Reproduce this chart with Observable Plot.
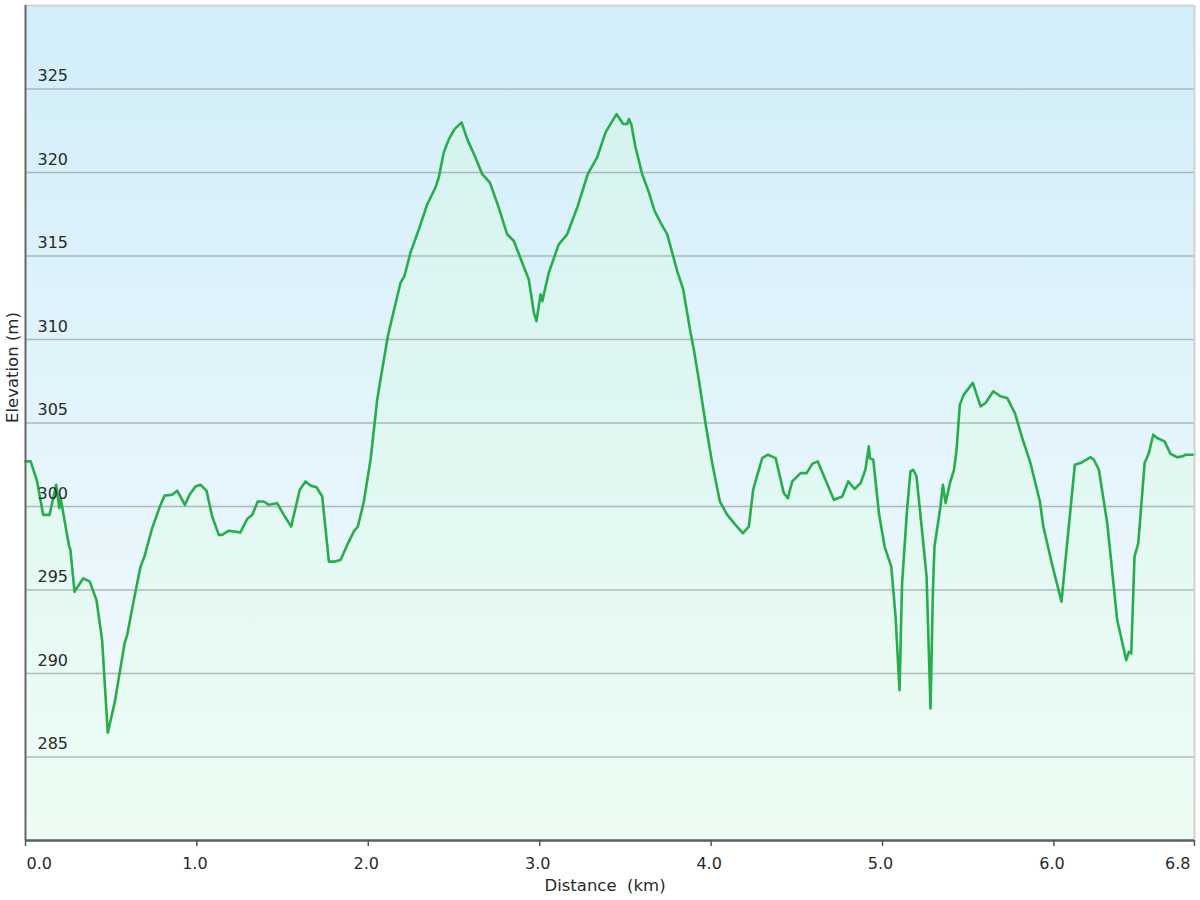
<!DOCTYPE html>
<html>
<head>
<meta charset="utf-8">
<script src="https://cdn.jsdelivr.net/npm/d3@7"></script>
<script src="https://cdn.jsdelivr.net/npm/@observablehq/plot@0.6"></script>
<style>
  html, body { margin: 0; padding: 0; background: #fff; }
  #chart { width: 1200px; height: 900px; }
</style>
</head>
<body>
<div id="chart"></div>
<script>
// Distance along the track (km)
const distKm = [
  0, 0.03, 0.068, 0.103, 0.14, 0.179, 0.197, 0.205, 0.253, 0.262,
  0.286, 0.337, 0.375, 0.414, 0.447, 0.48, 0.521, 0.578, 0.593, 0.632,
  0.671, 0.694, 0.739, 0.784, 0.811, 0.856, 0.885, 0.93, 0.957, 0.992,
  1.02, 1.056, 1.089, 1.128, 1.147, 1.186, 1.254, 1.293, 1.323, 1.355,
  1.39, 1.42, 1.468, 1.507, 1.55, 1.6, 1.634, 1.663, 1.698, 1.731,
  1.77, 1.803, 1.838, 1.886, 1.915, 1.939, 1.974, 2.013, 2.052, 2.071,
  2.114, 2.139, 2.188, 2.211, 2.246, 2.295, 2.344, 2.392, 2.411, 2.44,
  2.47, 2.503, 2.544, 2.577, 2.625, 2.665, 2.709, 2.761, 2.81, 2.849,
  2.898, 2.936, 2.966, 2.981, 3.005, 3.015, 3.053, 3.111, 3.16, 3.219,
  3.28, 3.335, 3.384, 3.448, 3.487, 3.51, 3.52, 3.534, 3.559, 3.598,
  3.637, 3.67, 3.705, 3.744, 3.802, 3.837, 3.88, 3.899, 3.928, 3.967,
  4.006, 4.051, 4.094, 4.142, 4.185, 4.22, 4.245, 4.298, 4.331, 4.376,
  4.424, 4.448, 4.473, 4.522, 4.557, 4.59, 4.622, 4.667, 4.716, 4.765,
  4.8, 4.837, 4.872, 4.9, 4.92, 4.926, 4.946, 4.979, 5.012, 5.051,
  5.076, 5.099, 5.114, 5.143, 5.163, 5.179, 5.198, 5.232, 5.257, 5.28,
  5.294, 5.303, 5.338, 5.352, 5.368, 5.393, 5.417, 5.432, 5.451, 5.474,
  5.527, 5.572, 5.601, 5.646, 5.688, 5.727, 5.772, 5.815, 5.863, 5.918,
  5.938, 5.99, 6.044, 6.077, 6.122, 6.155, 6.214, 6.233, 6.262, 6.311,
  6.369, 6.422, 6.437, 6.451, 6.47, 6.492, 6.529, 6.554, 6.579, 6.602,
  6.645, 6.68, 6.719, 6.749, 6.768, 6.82
];

// Elevation (m)
const elevM = [
  302.7, 302.7, 301.5, 299.5, 299.5, 301.3, 299.9, 300.5, 297.7, 297.4,
  294.9, 295.7, 295.5, 294.4, 292.0, 286.45, 288.3, 291.8, 292.3, 294.4,
  296.4, 297.0, 298.7, 300.0, 300.65, 300.7, 300.95, 300.1, 300.7, 301.2,
  301.3, 300.95, 299.4, 298.3, 298.3, 298.55, 298.45, 299.25, 299.5, 300.3,
  300.3, 300.1, 300.2, 299.5, 298.8, 301.0, 301.5, 301.25, 301.15, 300.6,
  296.7, 296.7, 296.8, 297.9, 298.5, 298.8, 300.3, 302.8, 306.4, 307.6,
  310.2, 311.3, 313.4, 313.8, 315.2, 316.6, 318.1, 319.1, 319.7, 321.2,
  322.0, 322.6, 323.0, 322.0, 320.9, 319.9, 319.4, 317.9, 316.3, 315.9,
  314.6, 313.6, 311.6, 311.1, 312.7, 312.3, 314.0, 315.7, 316.3, 317.9,
  319.9, 320.9, 322.4, 323.5, 322.9, 322.9, 323.2, 322.9, 321.5, 319.9,
  318.8, 317.7, 317.0, 316.3, 314.1, 313.0, 310.4, 309.4, 307.6, 305.0,
  302.6, 300.3, 299.5, 298.9, 298.4, 298.8, 301.0, 302.9, 303.1, 302.9,
  300.8, 300.5, 301.5, 302.0, 302.0, 302.55, 302.7, 301.6, 300.4, 300.6,
  301.5, 301.05, 301.4, 302.2, 303.6, 302.9, 302.8, 299.6, 297.6, 296.4,
  293.4, 289.0, 295.4, 299.8, 302.1, 302.2, 301.8, 298.4, 295.8, 287.9,
  295.0, 297.6, 300.0, 301.3, 300.2, 301.4, 302.2, 303.4, 306.1, 306.7,
  307.4, 306.0, 306.2, 306.9, 306.6, 306.5, 305.6, 304.1, 302.6, 300.3,
  298.8, 296.5, 294.3, 297.8, 302.5, 302.6, 302.95, 302.8, 302.2, 299.0,
  293.2, 290.8, 291.3, 291.2, 297.0, 297.8, 302.6, 303.2, 304.3, 304.1,
  303.9, 303.15, 302.95, 303.0, 303.1, 303.1
];

// Axis ticks
const yTicks = [285, 290, 295, 300, 305, 310, 315, 320, 325];
const xTicks = [0, 1, 2, 3, 4, 5, 6, 6.82];
const xTickLabels = ["0.0", "1.0", "2.0", "3.0", "4.0", "5.0", "6.0", "6.8"];
const xDomain = [0, 6.82];
const yDomain = [280, 330];

const track = distKm.map((d, i) => ({dist: d, elev: elevM[i]}));
const xTickRows = xTicks.map((t, i) => ({t, label: xTickLabels[i]}));

const FONT = "'DejaVu Sans', Verdana, sans-serif";
const TXT = "#2a2a2a";

const defs = () => {
  const ns = "http://www.w3.org/2000/svg";
  const d = document.createElementNS(ns, "defs");
  d.innerHTML = `
    <linearGradient id="bgGrad" x1="0" y1="0" x2="0" y2="1">
      <stop offset="0%" stop-color="#d1eef9"/>
      <stop offset="100%" stop-color="#f5fbfe"/>
    </linearGradient>
    <linearGradient id="areaGrad" x1="0" y1="0" x2="0" y2="1">
      <stop offset="0%" stop-color="#d6f3f0"/>
      <stop offset="100%" stop-color="#edfdf4"/>
    </linearGradient>`;
  return d;
};

const chart = Plot.plot({
  width: 1200,
  height: 900,
  marginLeft: 25,
  marginRight: 6,
  marginTop: 5,
  marginBottom: 60,
  style: {fontFamily: FONT, background: "#ffffff", overflow: "visible"},
  x: {domain: xDomain, axis: null},
  y: {domain: yDomain, axis: null},
  marks: [
    defs,
    Plot.frame({fill: "url(#bgGrad)", stroke: "none"}),
    Plot.areaY(track, {x: "dist", y1: yDomain[0], y2: "elev", fill: "url(#areaGrad)"}),
    Plot.ruleY(yTicks, {stroke: "#a3adb0", strokeWidth: 1.6, strokeOpacity: 0.85}),
    Plot.line(track, {x: "dist", y: "elev", stroke: "#27ad4b", strokeWidth: 2.6, strokeLinejoin: "round"}),
    // light border top & right
    Plot.ruleY([yDomain[1]], {stroke: "#d2d2d2", strokeWidth: 2}),
    Plot.ruleX([xDomain[1]], {stroke: "#d2d2d2", strokeWidth: 2}),
    // axis lines
    Plot.ruleX([xDomain[0]], {stroke: "#666666", strokeWidth: 2}),
    Plot.ruleY([yDomain[0]], {stroke: "#5e5e5e", strokeWidth: 2.5}),
    // x tick marks
    Plot.ruleX(xTicks, {y1: yDomain[0], y2: yDomain[0], insetBottom: -6, stroke: "#555", strokeWidth: 1.5}),
    // y tick labels inside the plot
    Plot.text(yTicks, {x: xDomain[0], y: d => d, text: d => String(d), textAnchor: "start",
      dx: 12, dy: -13, fontSize: 16, fill: TXT}),
    // x tick labels
    Plot.text(xTickRows.slice(0, 1), {x: "t", y: yDomain[0], text: "label", textAnchor: "start",
      dx: 1, dy: 23, fontSize: 16, fill: TXT}),
    Plot.text(xTickRows.slice(1, -1), {x: "t", y: yDomain[0], text: "label", textAnchor: "middle",
      dx: -2, dy: 23, fontSize: 16, fill: TXT}),
    Plot.text(xTickRows.slice(-1), {x: "t", y: yDomain[0], text: "label", textAnchor: "end",
      dx: -4, dy: 23, fontSize: 16, fill: TXT}),
    // axis titles
    Plot.text(["Distance\u00a0\u00a0(km)"], {frameAnchor: "bottom", text: d => d, dy: 50, dx: -5,
      fontSize: 16.5, fill: TXT}),
    Plot.text(["Elevation (m)"], {frameAnchor: "left", text: d => d, rotate: -90, dx: -13,
      fontSize: 16.5, fill: TXT})
  ]
});

document.getElementById("chart").appendChild(chart);
</script>
</body>
</html>
